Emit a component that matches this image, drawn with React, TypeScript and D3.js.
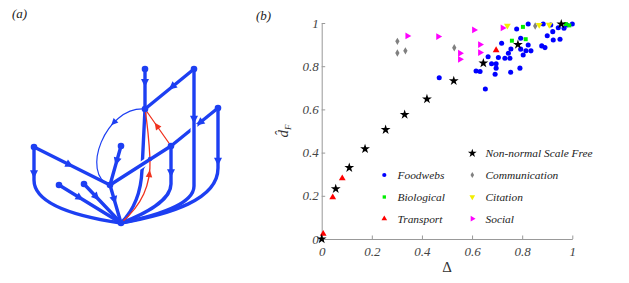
import React, { useRef, useEffect } from "react";
import * as d3 from "d3";

// ---------- panel (b): [Delta, d_F] ----------
const foodwebs: [number, number][] = [
    [0.718, 0.906], [0.778, 0.972], [0.824, 0.995], [0.884, 0.995], [0.914, 0.991],
    [0.944, 0.978], [0.967, 0.976], [0.978, 0.991], [1.0, 0.995], [0.922, 0.96],
    [0.9, 0.941], [0.924, 0.921], [0.951, 0.925], [0.794, 0.929], [0.824, 0.898],
    [0.878, 0.894], [0.891, 0.886], [0.755, 0.88], [0.794, 0.879], [0.815, 0.872],
    [0.835, 0.871], [0.804, 0.852], [0.745, 0.86], [0.731, 0.837], [0.751, 0.837],
    [0.705, 0.84], [0.664, 0.844], [0.678, 0.811], [0.696, 0.811], [0.696, 0.791],
    [0.692, 0.763], [0.616, 0.778], [0.632, 0.775], [0.754, 0.772], [0.791, 0.791],
    [0.653, 0.694], [0.469, 0.747],
];
const biological: [number, number][] = [
    [0.803, 0.982], [0.759, 0.918], [0.814, 0.925], [0.974, 0.995], [0.988, 0.989],
];
const transport: [number, number][] = [
    [0.006, 0.024], [0.044, 0.193], [0.082, 0.281], [0.696, 0.874],
];
const communication: [number, number][] = [
    [0.302, 0.915], [0.302, 0.861], [0.334, 0.871], [0.529, 0.885], [0.852, 0.986],
];
const citation: [number, number][] = [
    [0.741, 0.988], [0.868, 0.991], [0.908, 0.992],
];
const social: [number, number][] = [
    [0.342, 0.94], [0.465, 0.937], [0.552, 0.86], [0.552, 0.832],
    [0.608, 0.968], [0.632, 0.9], [0.632, 0.863], [0.722, 0.977],
];
const nonNormalSF: [number, number][] = [
    [0, 0], [0.056, 0.232], [0.11, 0.33], [0.173, 0.417], [0.255, 0.506], [0.331, 0.576],
    [0.42, 0.648], [0.527, 0.732], [0.645, 0.814], [0.783, 0.9], [0.956, 0.995],
];

const xTicks = [0, 0.2, 0.4, 0.6, 0.8, 1];
const yTicks = [0, 0.2, 0.4, 0.6, 0.8, 1];

const legendLeft = ["Foodwebs", "Biological", "Transport"];
const legendRight = ["Non-normal Scale Free", "Communication", "Citation", "Social"];

// ---------- panel (a): layout of the example network ----------
const netNodes: Record<string, [number, number]> = {
    A: [145, 69], B: [194, 69], C: [145, 109], D: [218, 108], E: [171, 146],
    F: [121, 146], G: [110, 185], H: [121, 223], L: [34, 147], M: [59, 185],
    N: [84, 184], P: [150, 159],
};

type Edge = {
    s: string; t: string; w: number; color?: string; at?: number;
    bend?: [number, number]; c1?: [number, number]; c2?: [number, number];
    halo?: [number, number];
};

const BLUE_NET = "#1d3ff2";
const RED_NET = "#f0321e";

const netEdges: Edge[] = [
    { s: "C", t: "H", w: 3.4, at: 0.5, bend: [142, 170], c1: [141, 196], c2: [131, 213] },
    { s: "L", t: "H", w: 3.4, at: 0.2, bend: [34, 180], c1: [34, 205], c2: [80, 217] },
    { s: "E", t: "H", w: 3.4, at: 0.26, bend: [171, 184], c1: [171, 200], c2: [145, 214] },
    { s: "D", t: "H", w: 3.4, at: 0.3, bend: [218, 168], c1: [218, 200], c2: [170, 214] },
    { s: "D", t: "E", w: 3.4, at: 0.39 },
    { s: "B", t: "H", w: 3.4, at: 0.25, bend: [194, 186], c1: [194, 205], c2: [155, 216], halo: [0.27, 0.33] },
    { s: "A", t: "C", w: 3.4, at: 0.35 },
    { s: "B", t: "C", w: 3.4, at: 0.45 },
    { s: "L", t: "G", w: 3.4, at: 0.47 },
    { s: "F", t: "G", w: 3.4, at: 0.4 },
    { s: "G", t: "H", w: 3.4, at: 0.4 },
    { s: "M", t: "H", w: 3.4, at: 0.34 },
    { s: "N", t: "H", w: 3.4, at: 0.34 },
    { s: "G", t: "E", w: 3.4, halo: [0.44, 0.6] },
    { s: "C", t: "G", w: 1.2, at: 0.33, c1: [105, 106], c2: [80, 175] },
    { s: "H", t: "P", w: 1.3, color: RED_NET, at: 0.8, c1: [142, 205], c2: [151, 185] },
    { s: "P", t: "C", w: 1.3, color: RED_NET, c1: [149, 140], c2: [147, 122] },
    { s: "E", t: "C", w: 1.3, color: RED_NET, at: 0.55 },
];

const SERIF = "Liberation Serif";

const edgePath = (e: Edge) => {
    const [sx, sy] = netNodes[e.s];
    const [tx, ty] = netNodes[e.t];
    const p = d3.path();
    p.moveTo(sx, sy);
    if (e.bend) p.lineTo(e.bend[0], e.bend[1]);
    if (e.c1 && e.c2) p.bezierCurveTo(e.c1[0], e.c1[1], e.c2[0], e.c2[1], tx, ty);
    else p.lineTo(tx, ty);
    return p.toString();
};

export default function App() {
    const svgRef = useRef<SVGSVGElement | null>(null);

    useEffect(() => {
        if (!svgRef.current) return;
        const svg = d3.select(svgRef.current);
        svg.selectAll("*").remove();

        // panel labels
        svg.append("text").attr("x", 12).attr("y", 18).text("(a)")
            .attr("font-family", SERIF).attr("font-style", "italic").attr("font-size", 13).attr("fill", "#222");
        svg.append("text").attr("x", 256).attr("y", 20).text("(b)")
            .attr("font-family", SERIF).attr("font-style", "italic").attr("font-size", 13).attr("fill", "#222");

        // ---------- network ----------
        const net = svg.append("g");
        netEdges.forEach((e) => {
            const color = e.color ?? BLUE_NET;
            const d = edgePath(e);
            if (e.halo) {
                const tmp = net.append("path").attr("d", d);
                const L = (tmp.node() as SVGPathElement).getTotalLength();
                tmp.attr("fill", "none").attr("stroke", "#fff").attr("stroke-width", e.w + 3.5)
                    .attr("stroke-dasharray", `0 ${e.halo[0] * L} ${(e.halo[1] - e.halo[0]) * L} ${L}`);
            }
            const path = net.append("path").attr("d", d).attr("fill", "none")
                .attr("stroke", color).attr("stroke-width", e.w).attr("stroke-linecap", "round");
            if (e.at !== undefined) {
                const el = path.node() as SVGPathElement;
                const L = el.getTotalLength();
                const p0 = el.getPointAtLength(e.at * L - 1);
                const p1 = el.getPointAtLength(e.at * L + 1);
                const pm = el.getPointAtLength(e.at * L);
                const ang = Math.atan2(p1.y - p0.y, p1.x - p0.x);
                const thin = e.w < 2;
                const len = thin ? 7 : 8;
                const hw = thin ? 3.3 : 4;
                const ux = Math.cos(ang), uy = Math.sin(ang);
                const tip = [pm.x + ux * len / 2, pm.y + uy * len / 2];
                const bx = pm.x - ux * len / 2, by = pm.y - uy * len / 2;
                const pts = [tip, [bx - uy * hw, by + ux * hw], [bx + uy * hw, by - ux * hw]];
                net.append("polygon").attr("points", pts.map((q) => q.join(",")).join(" ")).attr("fill", color);
            }
        });
        Object.entries(netNodes).forEach(([id, [x, y]]) => {
            net.append("circle").attr("cx", x).attr("cy", y).attr("r", id === "P" ? 2.2 : 3.3).attr("fill", BLUE_NET);
        });

        // ---------- scatter ----------
        const x = d3.scaleLinear().domain([0, 1]).range([321.7, 572.3]);
        const y = d3.scaleLinear().domain([0, 1]).range([239, 23]);

        const axisColor = "#999";
        const gx = svg.append("g").attr("transform", `translate(0,${y(0)})`)
            .call(d3.axisBottom(x).tickValues(xTicks).tickSize(-3.5).tickSizeOuter(0).tickPadding(8).tickFormat(d3.format("~g")));
        const gy = svg.append("g").attr("transform", `translate(${x(0)},0)`)
            .call(d3.axisLeft(y).tickValues(yTicks).tickSize(-3.5).tickSizeOuter(0).tickPadding(3).tickFormat(d3.format("~g")));
        [gx, gy].forEach((g) => {
            g.attr("font-family", SERIF).attr("font-size", 13);
            g.select(".domain").attr("stroke", axisColor);
            g.selectAll(".tick line").attr("stroke", axisColor);
            g.selectAll(".tick text").attr("fill", "#444").attr("font-style", "italic");
        });

        svg.append("text").attr("x", 447).attr("y", 272).attr("text-anchor", "middle").text("Δ")
            .attr("font-family", SERIF).attr("font-size", 15).attr("fill", "#333");
        const yl = svg.append("text").attr("transform", "translate(288,131) rotate(-90)").attr("text-anchor", "middle")
            .attr("font-family", SERIF).attr("font-style", "italic").attr("font-size", 15).attr("fill", "#333");
        yl.append("tspan").text("d\u0302");
        yl.append("tspan").attr("font-size", 9).attr("dy", 3).text("F");

        const sym = (type: d3.SymbolType, size: number) => d3.symbol().type(type).size(size)() as string;
        const series: { data: [number, number][]; d: string; fill: string; rot: number }[] = [
            { data: foodwebs, d: sym(d3.symbolCircle, 20), fill: "#0000ff", rot: 0 },
            { data: biological, d: sym(d3.symbolSquare, 16), fill: "#00ee00", rot: 0 },
            { data: transport, d: sym(d3.symbolTriangle, 20), fill: "#ff0000", rot: 0 },
            { data: communication, d: sym(d3.symbolDiamond, 16), fill: "#808080", rot: 0 },
            { data: citation, d: sym(d3.symbolTriangle, 20), fill: "#f2ee00", rot: 180 },
            { data: social, d: sym(d3.symbolTriangle, 20), fill: "#ff00ff", rot: 90 },
            { data: nonNormalSF, d: sym(d3.symbolStar, 30), fill: "#000", rot: 0 },
        ];
        series.forEach((s) => {
            svg.append("g").selectAll("path").data(s.data).enter().append("path")
                .attr("d", s.d)
                .attr("transform", (p) => `translate(${x(p[0])},${y(p[1])}) rotate(${s.rot})`)
                .attr("fill", s.fill);
        });

        // ---------- legend ----------
        const leg = svg.append("g");
        const legMarks = [
            { col: 0, row: 1, d: sym(d3.symbolCircle, 14), fill: "#0000ff", rot: 0 },
            { col: 0, row: 2, d: sym(d3.symbolSquare, 11), fill: "#00ee00", rot: 0 },
            { col: 0, row: 3, d: sym(d3.symbolTriangle, 14), fill: "#ff0000", rot: 0 },
            { col: 1, row: 0, d: sym(d3.symbolStar, 24), fill: "#000", rot: 0 },
            { col: 1, row: 1, d: sym(d3.symbolDiamond, 11), fill: "#808080", rot: 0 },
            { col: 1, row: 2, d: sym(d3.symbolTriangle, 14), fill: "#f2ee00", rot: 180 },
            { col: 1, row: 3, d: sym(d3.symbolTriangle, 14), fill: "#ff00ff", rot: 90 },
        ];
        const rowY = [153.3, 175, 197, 218.7];
        const colX = [384.3, 472.3];
        legMarks.forEach((m) => {
            leg.append("path").attr("d", m.d)
                .attr("transform", `translate(${colX[m.col]},${rowY[m.row]}) rotate(${m.rot})`).attr("fill", m.fill);
        });
        const addLabel = (lx: number, ly: number, name: string) =>
            leg.append("text").attr("x", lx).attr("y", ly).text(name)
                .attr("font-family", SERIF).attr("font-style", "italic").attr("font-size", 11.4).attr("fill", "#222");
        legendLeft.forEach((name, i) => addLabel(397.5, rowY[i + 1] + 4, name));
        legendRight.forEach((name, i) => addLabel(485.5, rowY[i] + 4, name));
    }, []);

    return (
        <div style={{ position: "absolute", left: 0, top: 0 }}>
            <svg ref={svgRef} width={629} height={283} style={{ display: "block", background: "#fff" }} />
        </div>
    );
}
